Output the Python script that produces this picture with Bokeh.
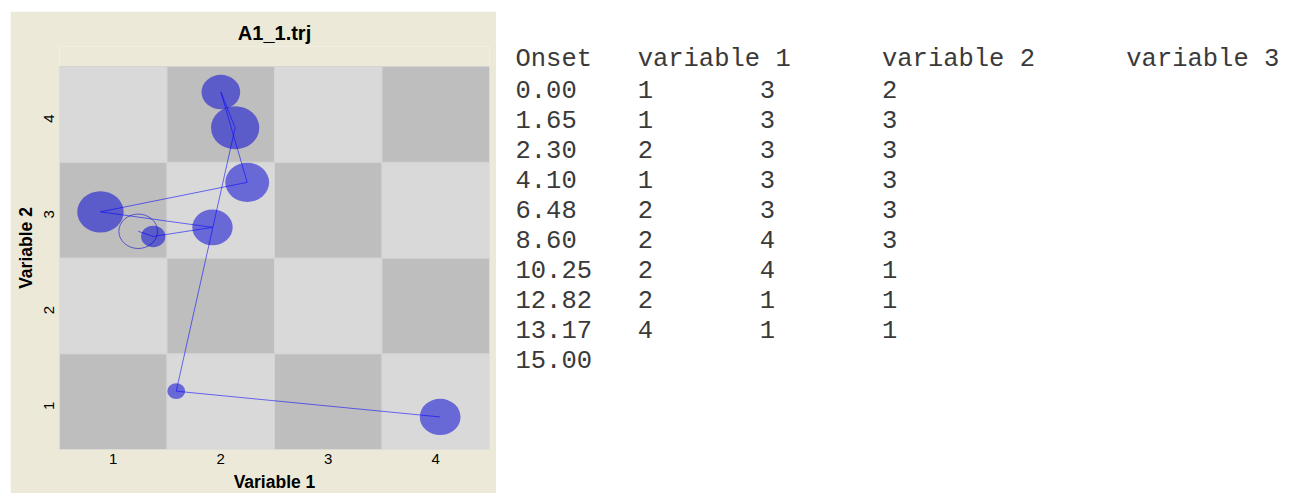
import math
import numpy as np
from bokeh.plotting import figure
from bokeh.layouts import row, column
from bokeh.models import Range1d, Spacer, FixedTicker
from bokeh.core.properties import value
from bokeh.embed import file_html
from bokeh.resources import INLINE

# ---------------- data ----------------
title_text = "A1_1.trj"
onsets = [0.00, 1.65, 2.30, 4.10, 6.48, 8.60, 10.25, 12.82, 13.17, 15.00]
var1 = [1, 1, 2, 1, 2, 2, 2, 2, 4]
var2 = [3, 3, 3, 3, 3, 4, 4, 1, 1]
var3 = [2, 3, 3, 3, 3, 3, 1, 1, 1]
headers = ["Onset", "variable 1", "variable 2", "variable 3"]
# jittered plotted positions of each state (Variable 1, Variable 2)
pos_x = [1.232, 1.372, 1.923, 0.881, 2.246, 2.001, 2.134, 1.586, 4.041]
pos_y = [2.779, 2.725, 2.820, 2.982, 3.290, 4.233, 3.861, 1.109, 0.840]
filled = [False, True, True, True, True, True, True, True, True]
ticks = [1, 2, 3, 4]
tick_labels = ["1", "2", "3", "4"]

BEIGE = "#ECE9D8"
DARK = "#BEBEBE"
LIGHT = "#D9D9D9"
BLUE = "#0000D2"

durations = np.diff(onsets)
radius = 0.14 * np.sqrt(durations)

# layout geometry (pixels)
GRID_H = 383          # height of the 4x4 board
EXTRA = 20            # beige strip kept inside the frame above the board
TOP = 35
BOTTOM = 44
FRAME_H = GRID_H + EXTRA
cell_px = GRID_H / 4.0

# ---------------- left plot ----------------
p = figure(frame_width=430, frame_height=FRAME_H,
           x_range=Range1d(0.5, 4.5), y_range=Range1d(0.5, 4.5 + EXTRA / cell_px),
           output_backend="svg", toolbar_location=None,
           min_border_left=49, min_border_right=7,
           min_border_top=TOP, min_border_bottom=BOTTOM,
           border_fill_color=BEIGE, background_fill_color=BEIGE,
           outline_line_color=None)

p.title.text = title_text
p.title.align = "center"
p.title.text_font = "Liberation Sans"
p.title.text_font_size = "20px"
p.title.text_font_style = "bold"
p.title.text_color = "black"
p.title.standoff = 6

cx, cy, cc = [], [], []
for i in ticks:
    for j in ticks:
        cx.append(i)
        cy.append(j)
        cc.append(DARK if (i + j) % 2 == 0 else LIGHT)
p.rect(x=cx, y=cy, width=1, height=1, fill_color=cc, line_color="#D4D4D4", line_width=1)

fx = [x for x, f in zip(pos_x, filled) if f]
fy = [y for y, f in zip(pos_y, filled) if f]
fr = [2 * r for r, f in zip(radius, filled) if f]
p.ellipse(x=fx, y=fy, width=fr, height=fr, fill_color=BLUE, fill_alpha=0.52, line_color=None)
ox = [x for x, f in zip(pos_x, filled) if not f]
oy = [y for y, f in zip(pos_y, filled) if not f]
orr = [2 * r for r, f in zip(radius, filled) if not f]
p.ellipse(x=ox, y=oy, width=orr, height=orr, fill_alpha=0, line_color=BLUE, line_alpha=0.55, line_width=1)

p.line(pos_x, pos_y, line_color="#0000FF", line_alpha=0.55, line_width=1)

p.grid.visible = False
for ax in (p.xaxis[0], p.yaxis[0]):
    ax.ticker = FixedTicker(ticks=ticks)
    ax.major_label_overrides = {t: l for t, l in zip(ticks, tick_labels)}
    ax.axis_line_color = None
    ax.major_tick_line_color = None
    ax.minor_tick_line_color = None
    ax.major_tick_out = 0
    ax.major_tick_in = 0
    ax.major_label_text_font = "Liberation Sans"
    ax.major_label_text_font_size = "15px"
    ax.major_label_text_color = "black"
    ax.axis_label_text_font = "Liberation Sans"
    ax.axis_label_text_font_size = "17.5px"
    ax.axis_label_text_font_style = "bold"
    ax.axis_label_text_color = "black"

p.xaxis.axis_label = "Variable 1"
p.yaxis.axis_label = "Variable 2"
p.xaxis.major_label_standoff = 4
p.xaxis.axis_label_standoff = 5
p.yaxis.major_label_standoff = 11
p.yaxis.axis_label_standoff = 0
p.yaxis.major_label_orientation = math.pi / 2

# ---------------- right text table ----------------
rows_txt = [headers]
for k in range(len(var1)):
    rows_txt.append([f"{onsets[k]:.2f}", str(var1[k]), str(var2[k]), str(var3[k])])
rows_txt.append([f"{onsets[-1]:.2f}"])

CHAR_W = 15.27
tx, ty, tt = [], [], []
for r, fields in enumerate(rows_txt):
    col = 0
    for f in fields:
        tx.append(19 + col * CHAR_W)
        ty.append(13 + 30 * r)
        tt.append(f)
        col = (col + len(f)) // 8 * 8 + 8

W2 = 795
p2 = figure(frame_width=W2, frame_height=FRAME_H,
            x_range=Range1d(0, W2), y_range=Range1d(FRAME_H, 0),
            output_backend="svg", toolbar_location=None,
            min_border_left=0, min_border_right=0,
            min_border_top=TOP, min_border_bottom=BOTTOM,
            x_axis_location=None, y_axis_location=None,
            border_fill_color="white", background_fill_color="white",
            outline_line_color=None)
p2.grid.visible = False
p2.text(x=tx, y=ty, text=tt,
        text_font=value("Liberation Mono"), text_font_size="25.5px",
        text_baseline="alphabetic", text_align="left", text_color="#3a3a3a")

layout = column(Spacer(height=11, width=10),
                row(Spacer(width=10, height=10), p, p2))

open("out.html", "w").write(file_html(layout, INLINE))
